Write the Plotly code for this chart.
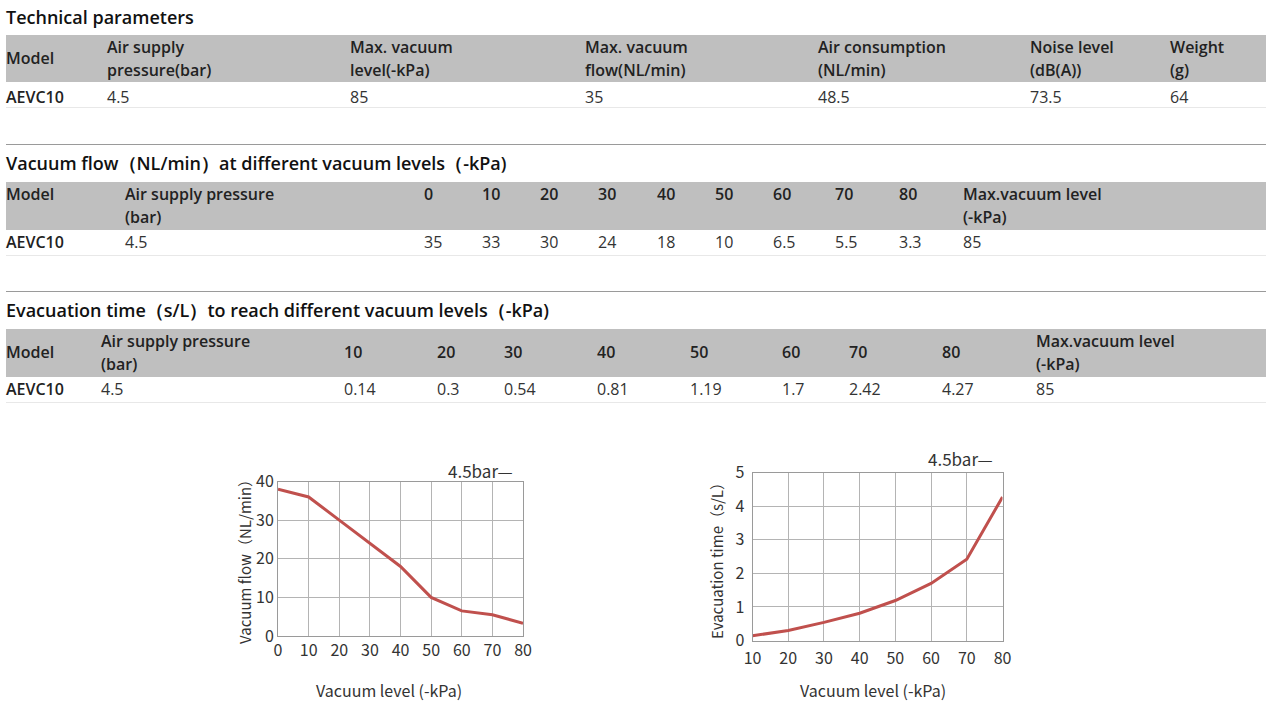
import plotly.graph_objects as go

# ---------------- data ----------------
model = "AEVC10"
supply_pressure = 4.5
max_vacuum_level = 85
max_vacuum_flow = 35
air_consumption = 48.5
noise_level = 73.5
weight_g = 64

tech_title = "Technical parameters"
tech_headers = [["Model"], ["Air supply", "pressure(bar)"], ["Max. vacuum", "level(-kPa)"],
                ["Max. vacuum", "flow(NL/min)"], ["Air consumption", "(NL/min)"],
                ["Noise level", "(dB(A))"], ["Weight", "(g)"]]
tech_values = [model, supply_pressure, max_vacuum_level, max_vacuum_flow,
               air_consumption, noise_level, weight_g]

flow_title = "Vacuum flow（NL/min）at different vacuum levels（-kPa)"
flow_levels = [0, 10, 20, 30, 40, 50, 60, 70, 80]
flow_table = [35, 33, 30, 24, 18, 10, 6.5, 5.5, 3.3]
flow_curve = [38, 36, 30, 24, 18, 10, 6.5, 5.5, 3.3]

evac_title = "Evacuation time（s/L）to reach different vacuum levels（-kPa)"
evac_levels = [10, 20, 30, 40, 50, 60, 70, 80]
evac_table = [0.14, 0.3, 0.54, 0.81, 1.19, 1.7, 2.42, 4.27]

series_label = "4.5bar—"

# ---------------- layout constants (pixels) ----------------
W, H = 1273, 708
FONT = "Open Sans"
CFONT = "Noto Sans CJK SC"
HEAD_BG = "#bfbfbf"
RED = "#c0504d"
GRID = "#b4b4b4"
TS = 16     # table text size
TTS = 18    # section title size


def px(x):
    return x / W


def py(y):
    return 1 - y / H


def fmt(v):
    return str(v)


fig = go.Figure()
annotations = []
shapes = []


def text(x, y, s, size=TS, bold=False, color="#222", xanchor="left", font=FONT, angle=0):
    annotations.append(dict(
        x=px(x), y=py(y), xref="paper", yref="paper", text=s, showarrow=False,
        xanchor=xanchor, yanchor="middle", borderpad=0, borderwidth=0, textangle=angle,
        font=dict(family=font, size=size, color=color, weight=600 if bold else 400)))


def hline(y, color, x0=6, x1=1266, width=1):
    shapes.append(dict(type="line", xref="paper", yref="paper", x0=px(x0), x1=px(x1),
                       y0=py(y), y1=py(y), line=dict(color=color, width=width)))


def band(y0, y1, x0=6, x1=1266):
    shapes.append(dict(type="rect", xref="paper", yref="paper", x0=px(x0), x1=px(x1),
                       y0=py(y1), y1=py(y0), fillcolor=HEAD_BG, line=dict(width=0), layer="below"))


# ---- table 1 ----
text(6, 17, tech_title, size=TTS, bold=True, color="#111")
band(35, 82)
t1_cols = [6, 107, 350, 585, 818, 1030, 1170]
for cx, hdr in zip(t1_cols, tech_headers):
    if len(hdr) == 1:
        text(cx, 58, hdr[0], bold=True)
    else:
        text(cx, 47, hdr[0], bold=True)
        text(cx, 70, hdr[1], bold=True)
for i, (cx, v) in enumerate(zip(t1_cols, tech_values)):
    text(cx, 97, fmt(v), bold=(i == 0), color="#222" if i == 0 else "#333")
hline(107.5, "#e8e8e8")

# ---- table 2 ----
hline(144.5, "#9a9a9a")
text(6, 163, flow_title, size=TTS, bold=True, color="#111")
band(182, 230)
t2_cols = [6, 125, 424, 482, 540, 598, 657, 715, 773, 835, 899, 963]
text(t2_cols[0], 194, "Model", bold=True)
text(t2_cols[1], 194, "Air supply pressure", bold=True)
text(t2_cols[1], 217, "(bar)", bold=True)
for cx, lv in zip(t2_cols[2:11], flow_levels):
    text(cx, 194, fmt(lv), bold=True)
text(t2_cols[11], 194, "Max.vacuum level", bold=True)
text(t2_cols[11], 217, "(-kPa)", bold=True)
row2 = [model, supply_pressure] + flow_table + [max_vacuum_level]
for i, (cx, v) in enumerate(zip(t2_cols, row2)):
    text(cx, 242, fmt(v), bold=(i == 0), color="#222" if i == 0 else "#333")
hline(255.5, "#e8e8e8")

# ---- table 3 ----
hline(291.5, "#9a9a9a")
text(6, 310, evac_title, size=TTS, bold=True, color="#111")
band(329, 377)
t3_cols = [6, 101, 344, 437, 504, 597, 690, 782, 849, 942, 1036]
text(t3_cols[0], 352, "Model", bold=True)
text(t3_cols[1], 341, "Air supply pressure", bold=True)
text(t3_cols[1], 364, "(bar)", bold=True)
for cx, lv in zip(t3_cols[2:10], evac_levels):
    text(cx, 352, fmt(lv), bold=True)
text(t3_cols[10], 341, "Max.vacuum level", bold=True)
text(t3_cols[10], 364, "(-kPa)", bold=True)
row3 = [model, supply_pressure] + evac_table + [max_vacuum_level]
for i, (cx, v) in enumerate(zip(t3_cols, row3)):
    text(cx, 389, fmt(v), bold=(i == 0), color="#222" if i == 0 else "#333")
hline(402.5, "#e8e8e8")

# ---------------- charts ----------------
fig.add_trace(go.Scatter(x=flow_levels, y=flow_curve, mode="lines",
                         line=dict(color=RED, width=3), xaxis="x", yaxis="y",
                         showlegend=False, hoverinfo="skip"))
fig.add_trace(go.Scatter(x=evac_levels, y=evac_table, mode="lines",
                         line=dict(color=RED, width=3), xaxis="x2", yaxis="y2",
                         showlegend=False, hoverinfo="skip"))

tickfont = dict(family=CFONT, size=16, color="#333")
axis_common = dict(showgrid=True, gridcolor=GRID, gridwidth=1, showline=True, mirror=True,
                   linecolor="#9a9a9a", linewidth=1, zeroline=False, ticks="",
                   tickfont=tickfont, fixedrange=True, automargin=False)

fig.update_layout(
    xaxis=dict(domain=[px(278), px(523)], range=[0, 80], dtick=10, anchor="y", **axis_common),
    yaxis=dict(domain=[py(636), py(481.5)], range=[0, 40], dtick=10, anchor="x", **axis_common),
    xaxis2=dict(domain=[px(752.5), px(1002.5)], range=[10, 80], dtick=10, anchor="y2",
                ticklabelstandoff=3, **axis_common),
    yaxis2=dict(domain=[py(640.5), py(472.5)], range=[0, 5], dtick=1, anchor="x2",
                ticklabelstandoff=4, **axis_common),
)

text(244, 558, "Vacuum flow（NL/min）", size=15, color="#333", xanchor="center", font=CFONT, angle=-90)
text(389, 690, "Vacuum level (-kPa)", size=16, color="#333", xanchor="center", font=CFONT)
text(448, 470, series_label, size=17, color="#333", font=CFONT)

text(716, 557, "Evacuation time（s/L）", size=15, color="#333", xanchor="center", font=CFONT, angle=-90)
text(873, 690, "Vacuum level (-kPa)", size=16, color="#333", xanchor="center", font=CFONT)
text(928, 458, series_label, size=17, color="#333", font=CFONT)

fig.update_layout(
    width=W, height=H, margin=dict(l=0, r=0, t=0, b=0, autoexpand=False),
    paper_bgcolor="white", plot_bgcolor="white",
    annotations=annotations, shapes=shapes, showlegend=False,
)

fig.write_html("out.html", config={"displayModeBar": False},
               post_script="document.body.style.margin='0';document.body.style.overflow='hidden';")
